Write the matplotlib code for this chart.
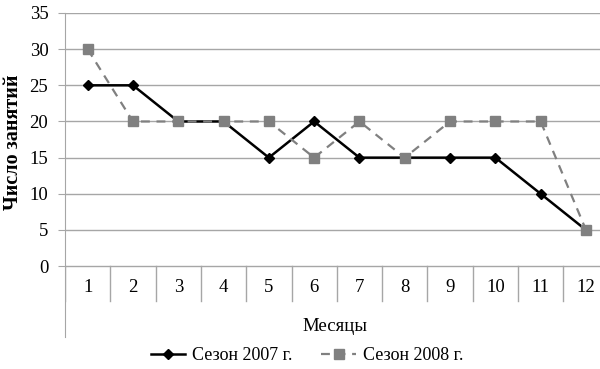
import numpy as np
import matplotlib.pyplot as plt

# Data
months = [1, 2, 3, 4, 5, 6, 7, 8, 9, 10, 11, 12]
season_2007 = [25, 25, 20, 20, 15, 20, 15, 15, 15, 15, 10, 5]
season_2008 = [30, 20, 20, 20, 20, 15, 20, 15, 20, 20, 20, 5]
y_ticks = [0, 5, 10, 15, 20, 25, 30, 35]

plt.rcParams['font.family'] = ['Liberation Serif', 'DejaVu Serif']

fig = plt.figure(figsize=(6, 3.69), dpi=100)
ax = fig.add_axes([65 / 600, 32 / 369, 535 / 600, 324 / 369])

grid_col = '#a6a6a6'
ax.set_xlim(0.5, 12.31)
ax.set_ylim(-9.8, 35)

# horizontal gridlines incl. the category axis at 0
for v in y_ticks:
    ax.axhline(v, color=grid_col, lw=1.0, zorder=1)

# category separators below the axis
for b in np.arange(0.5, 13.5, 1.0):
    ax.plot([b, b], [0, -4.8], color=grid_col, lw=1.0, zorder=1)

for m in months:
    ax.text(m, -3.0, str(m), ha='center', va='center', fontsize=13.5)

ax.plot(months, season_2007, color='black', lw=1.8, marker='D', markersize=5.5,
        label='Сезон 2007 г.', zorder=3)
ax.plot(months, season_2008, color='#808080', lw=1.6, ls=(0, (4, 3)), marker='s',
        markersize=7.5, label='Сезон 2008 г.', zorder=3)

for s in ['top', 'right', 'bottom']:
    ax.spines[s].set_visible(False)
ax.spines['left'].set_color(grid_col)

ax.set_xticks([])
ax.set_yticks(y_ticks)
ax.set_yticklabels([str(v) for v in y_ticks], fontsize=13.5)
ax.tick_params(axis='y', length=5, color=grid_col, pad=7)

ax.text(6.45, -8.4, 'Месяцы', ha='center', va='center', fontsize=13.5)
fig.text(13 / 600, 1 - 142 / 369, 'Число занятий', rotation=90, ha='center',
         va='center', fontsize=14.5, fontweight='bold')

fig.legend(loc='center', bbox_to_anchor=(307 / 600, 1 - 356 / 369), ncol=2,
           frameon=False, fontsize=13, handlelength=1.9, columnspacing=1.6,
           handletextpad=0.4, borderpad=0)

fig.savefig('out.png', dpi=100)
